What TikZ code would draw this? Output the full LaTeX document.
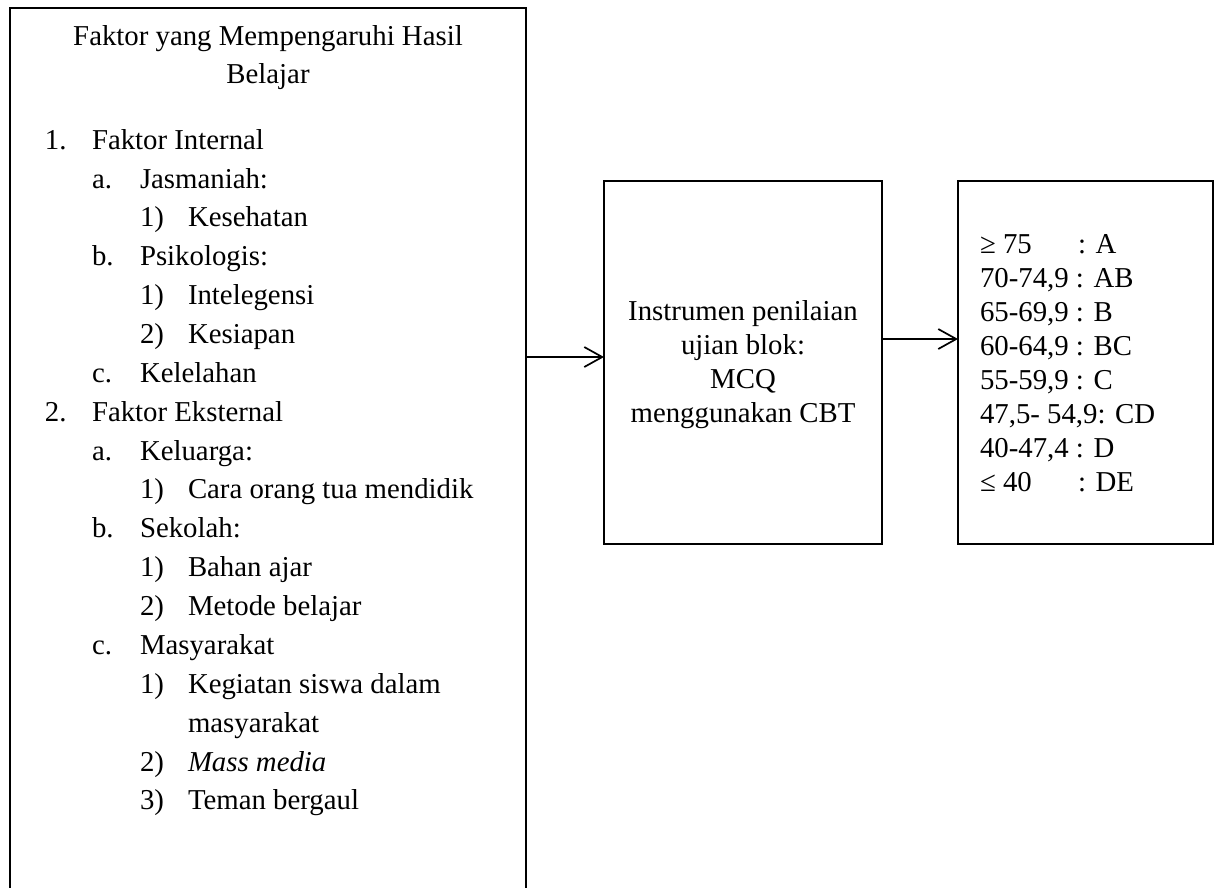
\documentclass[tikz,border=0pt]{standalone}
\usepackage{fontspec}
\setmainfont{Liberation Serif}
\usetikzlibrary{arrows.meta}
\begin{document}
\begin{tikzpicture}[x=1pt,y=-1pt,
  box/.style={draw, line width=1.8pt, inner sep=0pt, outer sep=0pt, anchor=north west},
  txt/.style={inner sep=0pt, outer sep=0pt, anchor=base west, font=\fontsize{28.8pt}{34pt}\selectfont},
  ctr/.style={txt, anchor=base},
  arr/.style={line width=1.7pt, -{Straight Barb[length=18pt,width=20pt]}}]
\useasboundingbox (0,0) rectangle (1219,887);
\clip (0,0) rectangle (1219,887);
% boxes
\node[box, minimum width=516pt, minimum height=930pt] (L) at (10,8) {};
\node[box, minimum width=278pt, minimum height=363pt] (M) at (604,181) {};
\node[box, minimum width=255pt, minimum height=363pt] (R) at (958,181) {};
% left box text
\node[ctr] (t1) at (268,45) {Faktor yang Mempengaruhi Hasil};
\node[ctr] (t2) at (268,83) {Belajar};
\node[txt] (n1) at (45,149) {1.};   \node[txt] (s1) at (92,149) {Faktor Internal};
\node[txt] (n2) at (92,188) {a.};   \node[txt] (s2) at (140,188) {Jasmaniah:};
\node[txt] (n3) at (140,226) {1)};  \node[txt] (s3) at (188,226) {Kesehatan};
\node[txt] (n4) at (92,265) {b.};   \node[txt] (s4) at (140,265) {Psikologis:};
\node[txt] (n5) at (140,304) {1)};  \node[txt] (s5) at (188,304) {Intelegensi};
\node[txt] (n6) at (140,343) {2)};  \node[txt] (s6) at (188,343) {Kesiapan};
\node[txt] (n7) at (92,382) {c.};   \node[txt] (s7) at (140,382) {Kelelahan};
\node[txt] (n8) at (45,421) {2.};   \node[txt] (s8) at (92,421) {Faktor Eksternal};
\node[txt] (n9) at (92,460) {a.};   \node[txt] (s9) at (140,460) {Keluarga:};
\node[txt] (n10) at (140,498) {1)}; \node[txt] (s10) at (188,498) {Cara orang tua mendidik};
\node[txt] (n11) at (92,537) {b.};  \node[txt] (s11) at (140,537) {Sekolah:};
\node[txt] (n12) at (140,576) {1)}; \node[txt] (s12) at (188,576) {Bahan ajar};
\node[txt] (n13) at (140,615) {2)}; \node[txt] (s13) at (188,615) {Metode belajar};
\node[txt] (n14) at (92,654) {c.};  \node[txt] (s14) at (140,654) {Masyarakat};
\node[txt] (n15) at (140,693) {1)}; \node[txt] (s15) at (188,693) {Kegiatan siswa dalam};
\node[txt] (s16) at (188,732) {masyarakat};
\node[txt] (n17) at (140,771) {2)}; \node[txt] (s17) at (188,771) {\textit{Mass media}};
\node[txt] (n18) at (140,809) {3)}; \node[txt] (s18) at (188,809) {Teman bergaul};
% middle box text
\node[ctr] (m1) at (743,320) {Instrumen penilaian};
\node[ctr] (m2) at (743,354) {ujian blok:};
\node[ctr] (m3) at (743,388) {MCQ};
\node[ctr] (m4) at (743,422) {menggunakan CBT};
% right box text
\node[txt] (r1) at (980,253) {≥ 75};  \node[txt] (r1b) at (1078,253) {: A};
\node[txt] (r2) at (980,287) {70-74,9 : AB};
\node[txt] (r3) at (980,321) {65-69,9 : B};
\node[txt] (r4) at (980,355) {60-64,9 : BC};
\node[txt] (r5) at (980,389) {55-59,9 : C};
\node[txt] (r6) at (980,423) {47,5- 54,9: CD};
\node[txt] (r7) at (980,457) {40-47,4 : D};
\node[txt] (r8) at (980,491) {≤ 40};  \node[txt] (r8b) at (1078,491) {: DE};
% arrows
\coordinate (y1) at (0,357);
\coordinate (y2) at (0,339);
\draw[arr] (L.east |- y1) -- (M.west |- y1);
\draw[arr] (M.east |- y2) -- (R.west |- y2);
\end{tikzpicture}
\end{document}
